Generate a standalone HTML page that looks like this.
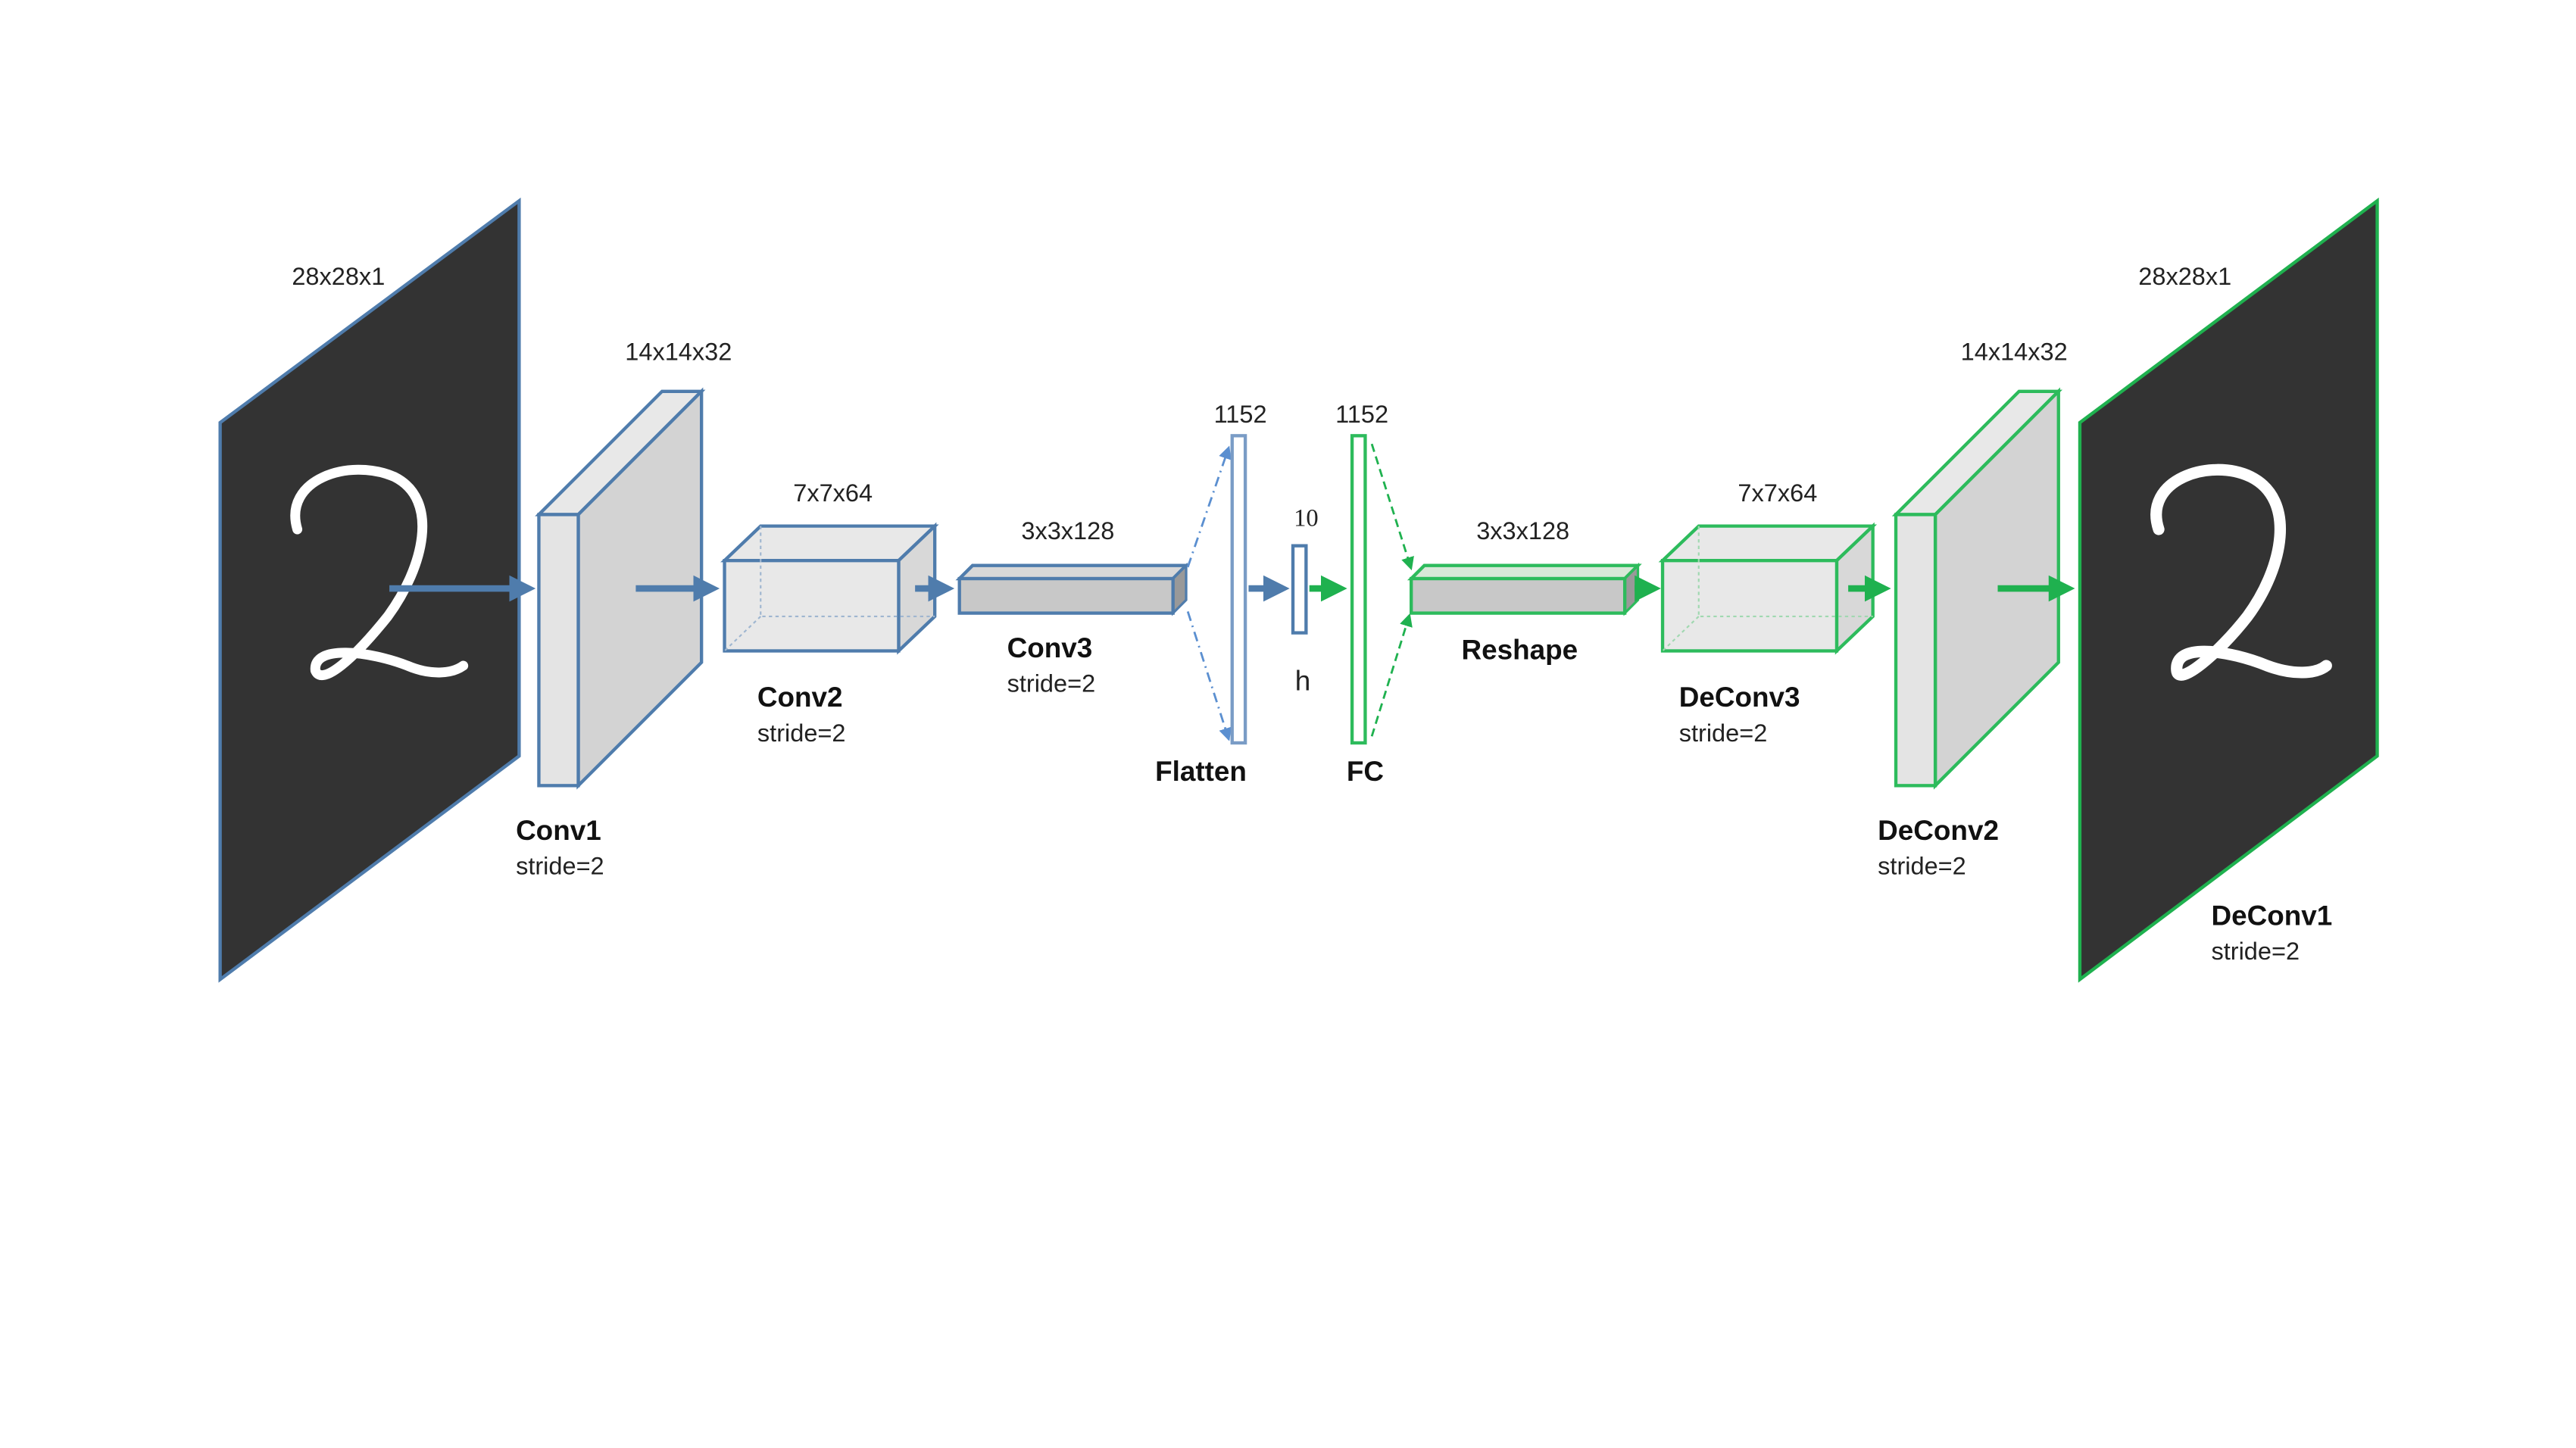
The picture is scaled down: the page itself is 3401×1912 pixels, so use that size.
<!DOCTYPE html>
<html><head><meta charset="utf-8"><style>
html,body{margin:0;padding:0;background:#fff;width:3401px;height:1912px;overflow:hidden}
svg{display:block}
text{font-family:"Liberation Sans",sans-serif;fill:#222}
.l{font-size:15px}
.b{font-size:17px;font-weight:bold;fill:#111}
</style></head><body>
<svg width="3401" height="1912" viewBox="0 0 1568 881" xmlns="http://www.w3.org/2000/svg">
<defs>
<marker id="ab" markerWidth="4" markerHeight="4" refX="3" refY="2" orient="auto"><path d="M0,0 L4,2 L0,4z" fill="#4f7cac"/></marker>
<marker id="ag" markerWidth="4" markerHeight="4" refX="3" refY="2" orient="auto"><path d="M0,0 L4,2 L0,4z" fill="#1fb14f"/></marker>
<marker id="sb" markerWidth="8" markerHeight="8" refX="7" refY="4" orient="auto" markerUnits="userSpaceOnUse"><path d="M0,0 L8,4 L0,8z" fill="#5b8fd0"/></marker>
<marker id="sg" markerWidth="8" markerHeight="8" refX="7" refY="4" orient="auto" markerUnits="userSpaceOnUse"><path d="M0,0 L8,4 L0,8z" fill="#1fb14f"/></marker>
</defs>

<polygon points="134,257 316,122 316,460 134,596" fill="#333" stroke="#4f7cac" stroke-width="2"/>
<path d="M181,322 C172,292 212,278 240,290 C268,304 258,345 236,375 C216,400 196,418 192,408 C190,392 225,396 248,405 C262,411 275,410 282,405" fill="none" stroke="#fff" stroke-width="6" stroke-linecap="round"/>
<text class="l" x="206" y="173" text-anchor="middle">28x28x1</text>
<line x1="237" y1="358" x2="322" y2="358" stroke="#4f7cac" stroke-width="4" marker-end="url(#ab)"/>

<polygon points="328,313 403,238 427,238 352,313" fill="#e8e8e8" stroke="#4f7cac" stroke-width="2"/>
<polygon points="352,313 427,238 427,403 352,478" fill="#d3d3d3" stroke="#4f7cac" stroke-width="2"/>
<rect x="328" y="313" width="24" height="165" fill="#e4e4e4" stroke="#4f7cac" stroke-width="2"/>
<text class="l" x="413" y="219" text-anchor="middle">14x14x32</text>
<text class="b" x="314" y="511">Conv1</text>
<text class="l" x="314" y="532">stride=2</text>
<line x1="387" y1="358" x2="434" y2="358" stroke="#4f7cac" stroke-width="4" marker-end="url(#ab)"/>

<polygon points="441,341 463,320 569,320 547,341" fill="#e8e8e8" stroke="#4f7cac" stroke-width="2"/>
<polygon points="547,341 569,320 569,375 547,396" fill="#d8d8d8" stroke="#4f7cac" stroke-width="2"/>
<rect x="441" y="341" width="106" height="55" fill="#e6e6e6" fill-opacity="0.9" stroke="#4f7cac" stroke-width="2"/>
<path d="M463,320 V375 H569 M463,375 L441,396" fill="none" stroke="#9fb6d0" stroke-width="1" stroke-dasharray="2,2"/>
<text class="l" x="507" y="305" text-anchor="middle">7x7x64</text>
<text class="b" x="461" y="430">Conv2</text>
<text class="l" x="461" y="451">stride=2</text>
<line x1="557" y1="358" x2="577" y2="358" stroke="#4f7cac" stroke-width="4" marker-end="url(#ab)"/>

<polygon points="584,352 592,344 722,344 714,352" fill="#d8d8d8" stroke="#4f7cac" stroke-width="2"/>
<polygon points="714,352 722,344 722,365 714,373" fill="#999" stroke="#4f7cac" stroke-width="1.5"/>
<rect x="584" y="352" width="130" height="21" fill="#c8c8c8" stroke="#4f7cac" stroke-width="2"/>
<text class="l" x="650" y="328" text-anchor="middle">3x3x128</text>
<text class="b" x="613" y="400">Conv3</text>
<text class="l" x="613" y="421">stride=2</text>

<line x1="723" y1="345" x2="748" y2="272" stroke="#5b8fd0" stroke-width="1.3" stroke-dasharray="6,3,1,3" marker-end="url(#sb)"/>
<line x1="723" y1="372" x2="748" y2="450" stroke="#5b8fd0" stroke-width="1.3" stroke-dasharray="6,3,1,3" marker-end="url(#sb)"/>
<rect x="750" y="265" width="8" height="187" fill="#fff" stroke="#7a9cc6" stroke-width="2"/>
<text class="l" x="755" y="257" text-anchor="middle">1152</text>
<text class="b" x="731" y="475" text-anchor="middle">Flatten</text>
<line x1="760" y1="358" x2="781" y2="358" stroke="#4f7cac" stroke-width="4" marker-end="url(#ab)"/>

<rect x="787" y="332" width="8" height="53" fill="#fff" stroke="#4f7cac" stroke-width="2"/>
<text class="l" x="795" y="320" text-anchor="middle" style="font-family:'Liberation Serif',serif">10</text>
<text class="l" x="793" y="420" text-anchor="middle" style="font-size:17px">h</text>
<line x1="797" y1="358" x2="816" y2="358" stroke="#1fb14f" stroke-width="4" marker-end="url(#ag)"/>

<rect x="823" y="265" width="8" height="187" fill="#fff" stroke="#2dbb5c" stroke-width="2"/>
<text class="l" x="829" y="257" text-anchor="middle">1152</text>
<text class="b" x="831" y="475" text-anchor="middle">FC</text>
<line x1="835" y1="270" x2="859" y2="346" stroke="#1fb14f" stroke-width="1.3" stroke-dasharray="5,3" marker-end="url(#sg)"/>
<line x1="835" y1="448" x2="858" y2="374" stroke="#1fb14f" stroke-width="1.3" stroke-dasharray="5,3" marker-end="url(#sg)"/>

<polygon points="859,352 867,344 997,344 989,352" fill="#d8e8d8" stroke="#2dbb5c" stroke-width="2"/>
<polygon points="989,352 997,344 997,365 989,373" fill="#999" stroke="#2dbb5c" stroke-width="1.5"/>
<rect x="859" y="352" width="130" height="21" fill="#c8c8c8" stroke="#2dbb5c" stroke-width="2"/>
<text class="l" x="927" y="328" text-anchor="middle">3x3x128</text>
<text class="b" x="925" y="401" text-anchor="middle">Reshape</text>
<line x1="995" y1="358" x2="1007" y2="358" stroke="#1fb14f" stroke-width="4" marker-end="url(#ag)"/>

<polygon points="1012,341 1034,320 1140,320 1118,341" fill="#e8e8e8" stroke="#2dbb5c" stroke-width="2"/>
<polygon points="1118,341 1140,320 1140,375 1118,396" fill="#d8d8d8" stroke="#2dbb5c" stroke-width="2"/>
<rect x="1012" y="341" width="106" height="55" fill="#e6e6e6" fill-opacity="0.9" stroke="#2dbb5c" stroke-width="2"/>
<path d="M1034,320 V375 H1140 M1034,375 L1012,396" fill="none" stroke="#a0d8b0" stroke-width="1" stroke-dasharray="2,2"/>
<text class="l" x="1082" y="305" text-anchor="middle">7x7x64</text>
<text class="b" x="1022" y="430">DeConv3</text>
<text class="l" x="1022" y="451">stride=2</text>
<line x1="1125" y1="358" x2="1147" y2="358" stroke="#1fb14f" stroke-width="4" marker-end="url(#ag)"/>

<polygon points="1154,313 1229,238 1253,238 1178,313" fill="#e8e8e8" stroke="#2dbb5c" stroke-width="2"/>
<polygon points="1178,313 1253,238 1253,403 1178,478" fill="#d3d3d3" stroke="#2dbb5c" stroke-width="2"/>
<rect x="1154" y="313" width="24" height="165" fill="#e4e4e4" stroke="#2dbb5c" stroke-width="2"/>
<text class="l" x="1226" y="219" text-anchor="middle">14x14x32</text>
<text class="b" x="1143" y="511">DeConv2</text>
<text class="l" x="1143" y="532">stride=2</text>
<line x1="1216" y1="358" x2="1259" y2="358" stroke="#1fb14f" stroke-width="4" marker-end="url(#ag)"/>

<polygon points="1266,257 1447,122 1447,460 1266,596" fill="#333" stroke="#1fb14f" stroke-width="2"/>
<path d="M1314,322 C1304,292 1345,278 1370,290 C1398,304 1390,345 1368,375 C1350,398 1326,418 1325,408 C1323,390 1358,396 1380,405 C1396,411 1410,410 1416,405" fill="none" stroke="#fff" stroke-width="7" stroke-linecap="round"/>
<text class="l" x="1330" y="173" text-anchor="middle">28x28x1</text>
<text class="b" x="1346" y="563">DeConv1</text>
<text class="l" x="1346" y="584">stride=2</text>
</svg>
</body></html>
